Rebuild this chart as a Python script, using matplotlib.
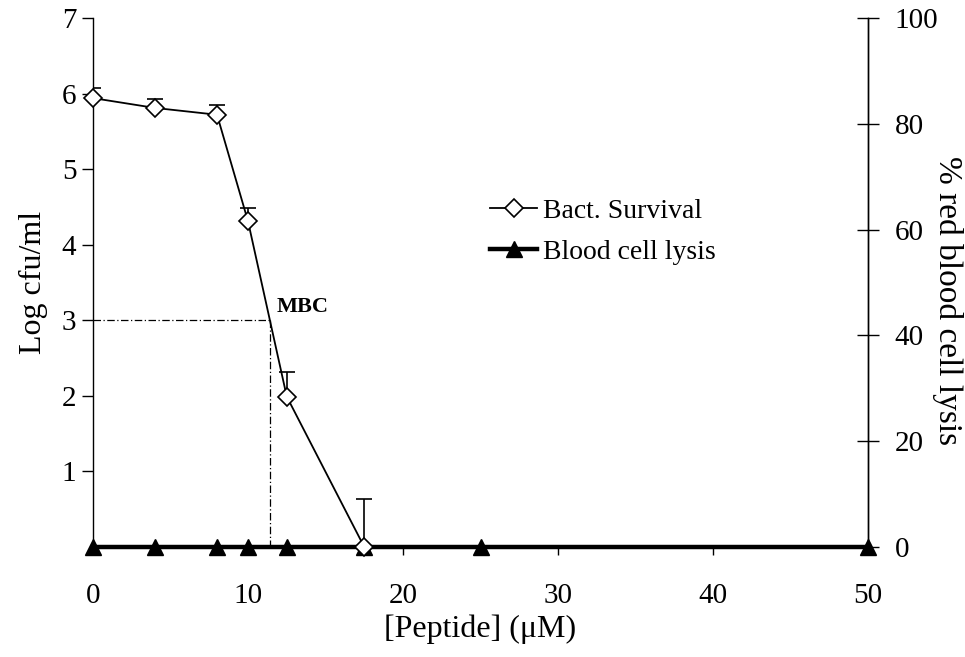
import numpy as np
import matplotlib
matplotlib.use("Agg")
from matplotlib import pyplot as plt

plt.rcParams['font.family'] = ['Liberation Serif', 'DejaVu Serif']

# data
peptide_surv = [0, 4, 8, 10, 12.5, 17.5]
log_cfu = [5.94, 5.81, 5.72, 4.31, 1.99, 0.0]
log_cfu_err = [0.13, 0.12, 0.13, 0.17, 0.32, 0.63]

peptide_lysis = [0, 4, 8, 10, 12.5, 17.5, 25, 50]
lysis_pct = [0, 0, 0, 0, 0, 0, 0, 0]

mbc_x = 11.45
mbc_y = 3

fig = plt.figure(figsize=(9.65, 6.57), dpi=100)
ax = fig.add_axes([0.0964, 0.1674, 0.8031, 0.8052])
ax2 = ax.twinx()

# bacterial survival, upper error bars only
ax.errorbar(peptide_surv, log_cfu, yerr=[np.zeros(len(log_cfu_err)), log_cfu_err],
            fmt='none', ecolor='black', elinewidth=1.2, capsize=6, capthick=1.2, zorder=3)
l1, = ax.plot(peptide_surv, log_cfu, color='black', lw=1.3, marker='D', markersize=9.5,
              markerfacecolor='white', markeredgecolor='black', markeredgewidth=1.2,
              label='Bact. Survival', zorder=4, clip_on=False)

# MBC guide
ax.plot([0, mbc_x], [mbc_y, mbc_y], color='black', lw=0.9, ls=(0, (6, 2, 1, 2)))
ax.plot([mbc_x, mbc_x], [mbc_y, 0], color='black', lw=0.9, ls=(0, (6, 2, 1, 2)))
ax.text(mbc_x + 0.4, mbc_y + 0.05, 'MBC', fontsize=16, fontweight='bold', ha='left', va='bottom')

# blood cell lysis on the right axis
l2, = ax2.plot(peptide_lysis, lysis_pct, color='black', lw=3.2, marker='^', markersize=12,
               markerfacecolor='black', markeredgecolor='black', label='Blood cell lysis',
               clip_on=False, zorder=5)

ax.set_xlim(0, 50)
ax.set_ylim(0, 7)
ax2.set_ylim(0, 100)
ax.set_xticks([0, 10, 20, 30, 40, 50])
ax.set_yticks([1, 2, 3, 4, 5, 6, 7])
ax2.set_yticks([0, 20, 40, 60, 80, 100])

for a in (ax, ax2):
    a.spines['top'].set_visible(False)
    for s in a.spines.values():
        s.set_linewidth(1.0)
ax2.spines['left'].set_visible(False)
ax2.spines['bottom'].set_visible(False)

ax.tick_params(axis='y', direction='out', length=8, width=1.0, labelsize=21, pad=4)
ax.tick_params(axis='x', direction='out', length=6, width=1.0, labelsize=21, pad=20)
ax2.tick_params(axis='y', direction='inout', length=16, width=1.0, labelsize=21, pad=11)

ax.set_xlabel('[Peptide] (\u03bcM)', fontsize=23, labelpad=4)
ax.set_ylabel('Log cfu/ml', fontsize=23, labelpad=10)
ax2.set_ylabel('% red blood cell lysis', fontsize=24, rotation=270)
ax2.yaxis.set_label_coords(1.122, 0.465)

ax.set_zorder(ax2.get_zorder() + 1)
ax.patch.set_visible(False)

leg = ax.legend(handles=[l1, l2], loc='upper left', bbox_to_anchor=(0.498, 0.68),
                frameon=False, fontsize=20, handlelength=1.7, handletextpad=0.2,
                labelspacing=0.55, borderaxespad=0)

fig.savefig('out.png', dpi=100)
